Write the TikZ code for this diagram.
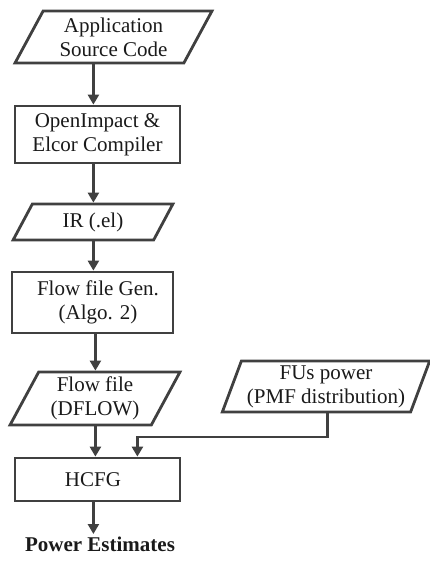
\documentclass[tikz,border=0pt]{standalone}
\usepackage{fontspec}
\setmainfont{Liberation Serif}
\usetikzlibrary{shapes.geometric,arrows.meta}
\definecolor{edge}{HTML}{404040}
\definecolor{ink}{HTML}{1A1A1A}
\tikzset{
  txt/.style={font=\fontsize{21}{24}\selectfont, text=ink, align=center},
  procbox/.style={txt, draw=edge, line width=2.8pt, rectangle, inner sep=1pt, fill=white},
  databox/.style={txt, draw=edge, line width=2.8pt, trapezium, trapezium stretches=true, inner sep=1pt, fill=white},
  arr/.style={draw=edge, line width=2.8pt, -{Triangle[width=11pt,length=10pt]}}
}
\begin{document}
\begin{tikzpicture}[x=1pt,y=-1pt]
\useasboundingbox (0,0) rectangle (430,562);
% nodes
\node[databox, trapezium left angle=61.7, trapezium right angle=118.3,
      minimum width=197pt, minimum height=52pt] (src) at (113.5,37) {Application\\Source Code};
\node[procbox, minimum width=165pt, minimum height=57pt] (comp) at (97.5,134.5) {OpenImpact \&\\Elcor Compiler};
\node[databox, trapezium left angle=64.7, trapezium right angle=115.3,
      minimum width=160pt, minimum height=36pt] (ir) at (93,222) {IR (.el)};
\node[procbox, minimum width=161pt, minimum height=61pt] (gen) at (92.5,302.5) {\hspace*{11pt}Flow file Gen.\\\hspace*{11pt}(Algo. 2)};
\node[databox, trapezium left angle=63, trapezium right angle=117,
      minimum width=170pt, minimum height=53pt] (flow) at (95,398.5) {Flow file\\(DFLOW)};
\node[databox, trapezium left angle=67.8, trapezium right angle=112.2,
      minimum width=208pt, minimum height=51pt] (fu) at (326,386.5) {FUs power\\(PMF distribution)};
\node[procbox, minimum width=165pt, minimum height=43pt] (hcfg) at (97.5,479.5) {\hspace*{-9pt}HCFG};
\node[txt, font=\fontsize{21}{24}\selectfont\bfseries, anchor=north, inner sep=3pt] (pe) at (100,534) {Power Estimates};
% helper x positions
\coordinate (xa) at (93.4,0);
\coordinate (xb) at (95.4,0);
\coordinate (xc) at (93.4,0);
\coordinate (fuout) at (327.4,412);
\coordinate (hin) at (137.4,0);
% connectors
\draw[arr] (src.south -| xa) -- (comp.north -| xa);
\draw[arr] (comp.south -| xa) -- (ir.north -| xa);
\draw[arr] (ir.south -| xa) -- (gen.north -| xa);
\draw[arr] (gen.south -| xb) -- (flow.north -| xb);
\draw[arr] (flow.south -| xb) -- (hcfg.north -| xb);
\draw[arr] (fuout) -- ++(0,25) -| (hcfg.north -| hin);
\draw[arr] (hcfg.south -| xc) -- (pe.north -| xc);
\end{tikzpicture}
\end{document}
